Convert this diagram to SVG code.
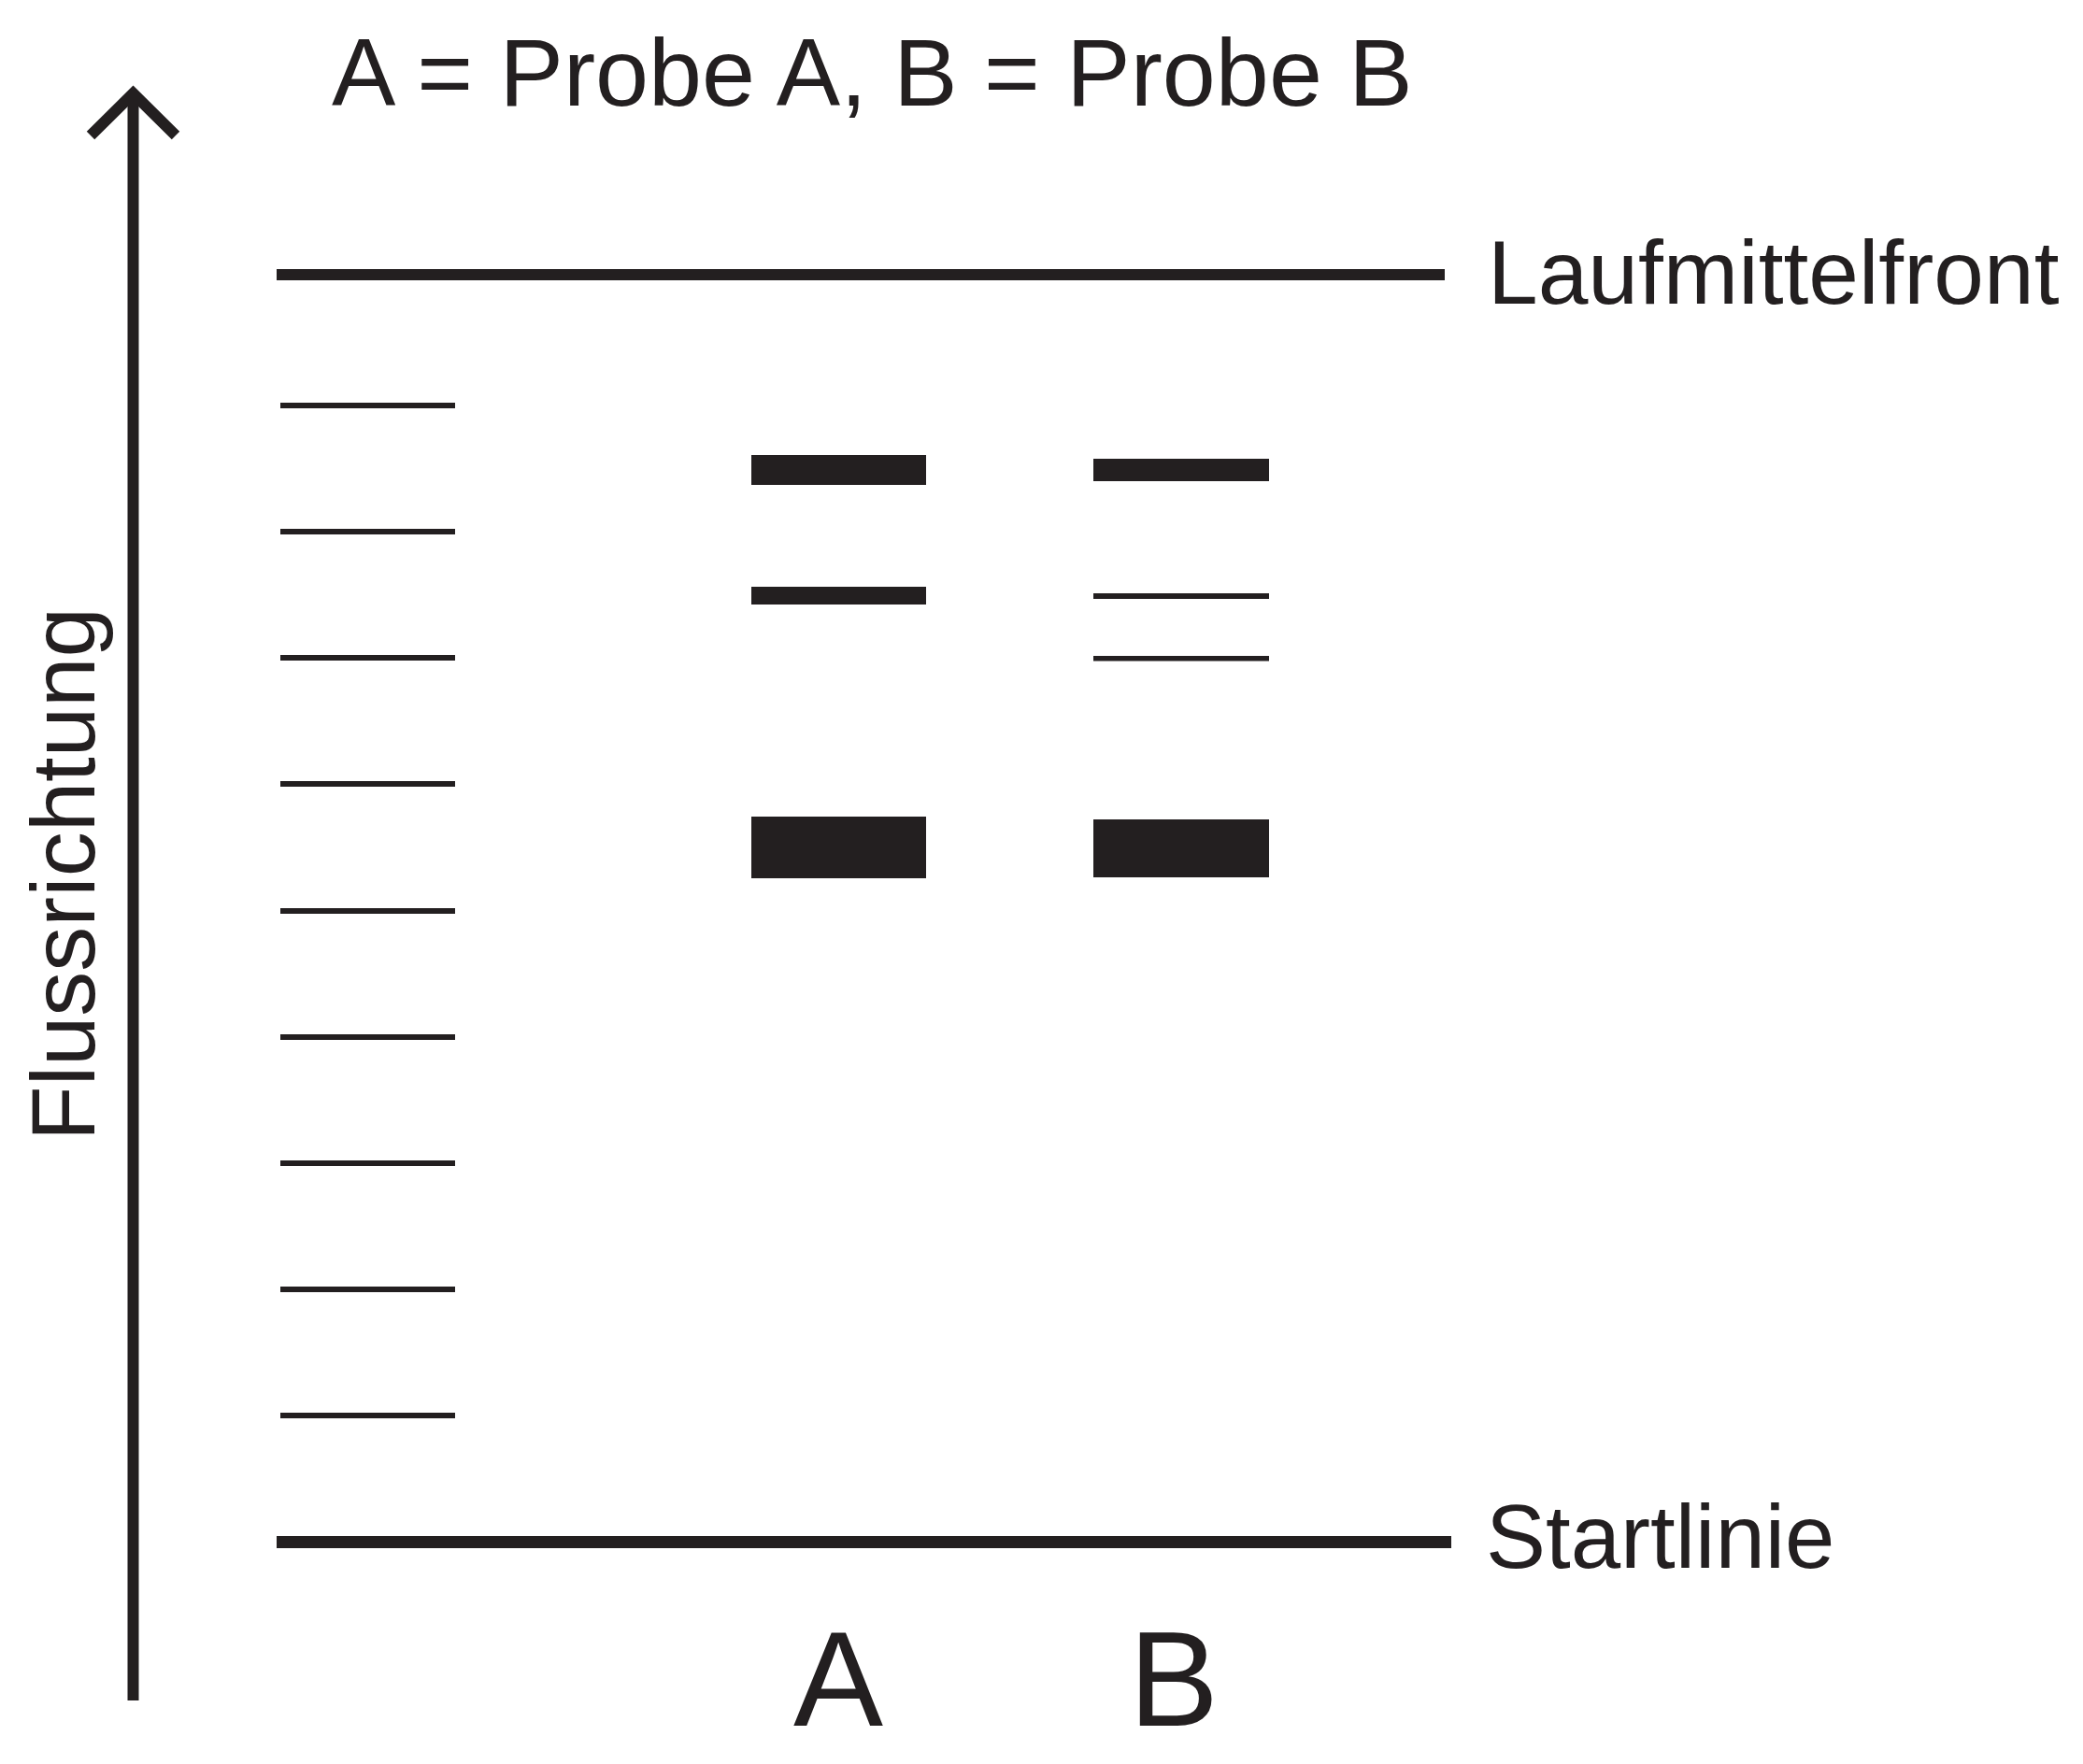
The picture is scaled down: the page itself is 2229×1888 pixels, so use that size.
<svg xmlns="http://www.w3.org/2000/svg" width="2229" height="1888" viewBox="0 0 2229 1888">
<style>
.t{font-family:"Liberation Sans",Arial,sans-serif;fill:#231f20}
.ln{stroke:#231f20;fill:none}
.tick{stroke:#231f20;stroke-width:6}
.band{fill:#231f20}
</style>
<rect width="2229" height="1888" fill="#ffffff"/>
<g id="title"><text class="t" x="355" y="113" font-size="102.5">A = Probe A, B = Probe B</text></g>
<g id="connectors">
<line class="ln" x1="142.5" y1="100" x2="142.5" y2="1820" stroke-width="12"/>
<polyline class="ln" points="97,145 142.5,100 188,145" stroke-width="12" stroke-linejoin="miter"/>
</g>
<g id="flussrichtung"><text class="t" font-size="96" transform="translate(101,1221) rotate(-90)">Flussrichtung</text></g>
<g id="laufmittelfront">
<line class="ln" x1="296" y1="294" x2="1546" y2="294" stroke-width="12"/>
<text class="t" x="1592" y="325" font-size="96.5">Laufmittelfront</text>
</g>
<g id="startlinie">
<line class="ln" x1="296" y1="1650.5" x2="1553" y2="1650.5" stroke-width="13"/>
<text class="t" x="1590" y="1678" font-size="96">Startlinie</text>
</g>
<g id="ladder">
<line class="tick" x1="300" y1="434" x2="487" y2="434"/>
<line class="tick" x1="300" y1="569" x2="487" y2="569"/>
<line class="tick" x1="300" y1="704" x2="487" y2="704"/>
<line class="tick" x1="300" y1="839" x2="487" y2="839"/>
<line class="tick" x1="300" y1="975" x2="487" y2="975"/>
<line class="tick" x1="300" y1="1110" x2="487" y2="1110"/>
<line class="tick" x1="300" y1="1245" x2="487" y2="1245"/>
<line class="tick" x1="300" y1="1380" x2="487" y2="1380"/>
<line class="tick" x1="300" y1="1515" x2="487" y2="1515"/>
</g>
<g id="laneA">
<rect class="band" x="804" y="487" width="187" height="32"/>
<rect class="band" x="804" y="628" width="187" height="19"/>
<rect class="band" x="804" y="874" width="187" height="66"/>
<text class="t" x="897" y="1847" font-size="144" text-anchor="middle">A</text>
</g>
<g id="laneB">
<rect class="band" x="1170" y="491" width="188" height="24"/>
<rect class="band" x="1170" y="635" width="188" height="6"/>
<rect class="band" x="1170" y="702" width="188" height="5.5"/>
<rect class="band" x="1170" y="877" width="188" height="62"/>
<text class="t" x="1256" y="1847" font-size="144" text-anchor="middle">B</text>
</g>
</svg>
